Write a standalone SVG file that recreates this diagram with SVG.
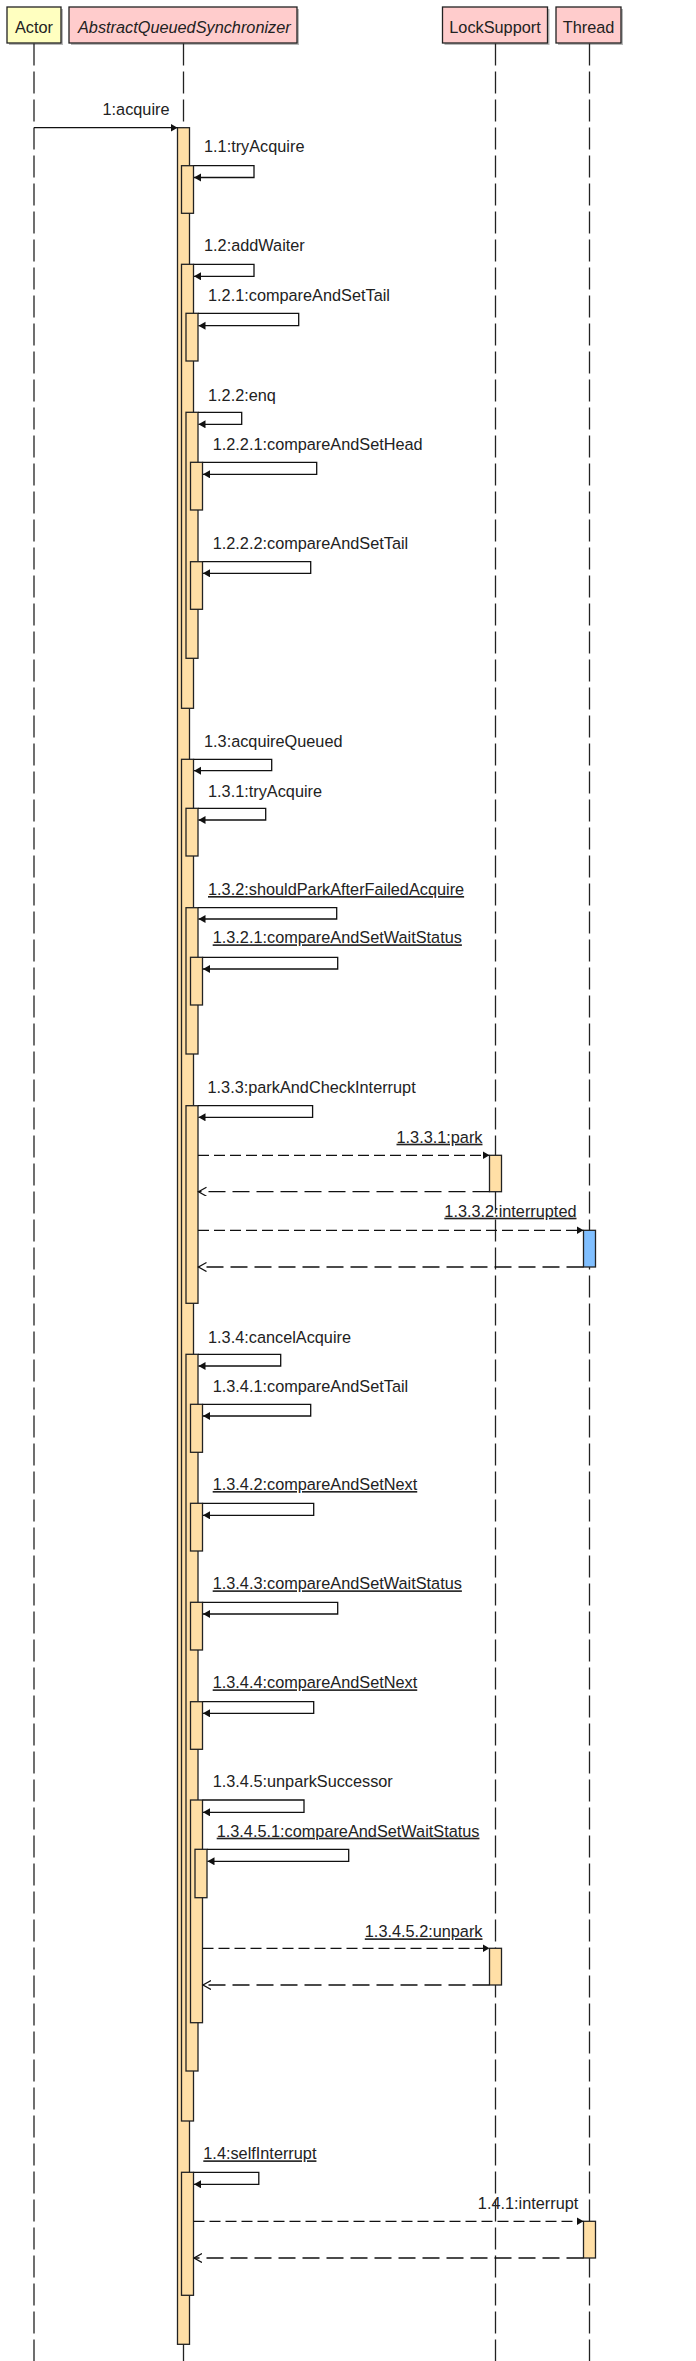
<svg xmlns="http://www.w3.org/2000/svg" width="696" height="2361" viewBox="0 0 696 2361">
<style>
text{font-family:"Liberation Sans",Arial,sans-serif;font-size:16.3px;fill:#222}
.shadow{fill:#b8b8b8}
.hdr{stroke:#222;stroke-width:1.3}
.life{stroke:#222;stroke-width:1.3;stroke-dasharray:22 6;fill:none}
.act{fill:#FFDFA6;stroke:#222;stroke-width:1.3}
.actb{fill:#80BFFF;stroke:#222;stroke-width:1.3}
.self{fill:none;stroke:#111;stroke-width:1.3;marker-end:url(#sync)}
.call{fill:none;stroke:#111;stroke-width:1.3;marker-end:url(#sync)}
.dcall{fill:none;stroke:#111;stroke-width:1.3;stroke-dasharray:11 5;marker-end:url(#sync)}
.ret{fill:none;stroke:#111;stroke-width:1.3;stroke-dasharray:17 7;marker-end:url(#open)}
.u{text-decoration:underline}
.e{text-anchor:end}
.m{text-anchor:middle}
</style>
<defs>
<marker id="sync" markerUnits="userSpaceOnUse" markerWidth="9" markerHeight="9" refX="7" refY="4" orient="auto">
<path d="M0,0 L7,4 L0,8 z" fill="#111" stroke="none"/>
</marker>
<marker id="open" markerUnits="userSpaceOnUse" markerWidth="10" markerHeight="11" refX="8" refY="4.5" orient="auto">
<path d="M0,0 L8,4.5 L0,9" fill="none" stroke="#111" stroke-width="1.3" stroke-dasharray="none"/>
</marker>
</defs>
<rect width="696" height="2361" fill="#fff"/>

<g id="actor">
<rect class="shadow" x="9" y="9" width="54" height="36"/>
<rect class="hdr" x="7" y="7" width="54" height="36" fill="#FFFFC0"/>
<text class="m" x="34" y="33">Actor</text>
<line class="life" x1="34" y1="43.5" x2="34" y2="2361"/>
</g>

<g id="aqs">
<rect class="shadow" x="71" y="9" width="228" height="36"/>
<rect class="hdr" x="69" y="7" width="228" height="36" fill="#FFCCCC"/>
<text x="78" y="33" font-style="italic">AbstractQueuedSynchronizer</text>
<line class="life" x1="183.5" y1="43.5" x2="183.5" y2="2361"/>
<rect class="act" x="177.5" y="127.7" width="12" height="2216.6"/>
<rect class="act" x="181.5" y="165.7" width="12" height="47.6"/>
<rect class="act" x="181.5" y="264.3" width="12" height="444"/>
<rect class="act" x="181.5" y="759.3" width="12" height="1361.7"/>
<rect class="act" x="181.5" y="2172.3" width="12" height="123"/>
<rect class="act" x="186" y="313.3" width="12" height="47.7"/>
<rect class="act" x="186" y="412.3" width="12" height="246"/>
<rect class="act" x="186" y="808.3" width="12" height="47.7"/>
<rect class="act" x="186" y="907.7" width="12" height="146.3"/>
<rect class="act" x="186" y="1105.7" width="12" height="197.6"/>
<rect class="act" x="186" y="1354.3" width="12" height="716.7"/>
<rect class="act" x="190.5" y="462.3" width="12" height="47.7"/>
<rect class="act" x="190.5" y="561.7" width="12" height="47.6"/>
<rect class="act" x="190.5" y="957.3" width="12" height="47.7"/>
<rect class="act" x="190.5" y="1404.3" width="12" height="48"/>
<rect class="act" x="190.5" y="1503.3" width="12" height="47.7"/>
<rect class="act" x="190.5" y="1602.3" width="12" height="47.7"/>
<rect class="act" x="190.5" y="1701.7" width="12" height="47.6"/>
<rect class="act" x="190.5" y="1800" width="12" height="222.7"/>
<rect class="act" x="195" y="1849.3" width="12" height="48.4"/>
</g>

<g id="locksupport">
<rect class="shadow" x="444.5" y="9" width="105" height="36"/>
<rect class="hdr" x="442.5" y="7" width="105" height="36" fill="#FFCCCC"/>
<text class="m" x="495" y="33">LockSupport</text>
<line class="life" x1="495.5" y1="43.5" x2="495.5" y2="2361"/>
<rect class="act" x="489.5" y="1155.3" width="12" height="36.4"/>
<rect class="act" x="489.5" y="1948.3" width="12" height="36.7"/>
</g>

<g id="thread">
<rect class="shadow" x="558" y="9" width="65" height="36"/>
<rect class="hdr" x="556" y="7" width="65" height="36" fill="#FFCCCC"/>
<text class="m" x="588.5" y="33">Thread</text>
<line class="life" x1="589.5" y1="43.5" x2="589.5" y2="2361"/>
<rect class="actb" x="583.5" y="1230.3" width="12" height="36.7"/>
<rect class="act" x="583.5" y="2221.3" width="12" height="36.7"/>
</g>

<g id="connectors">
<path class="call" d="M34,127.7 H177.5"/>
<text class="e" x="169.5" y="115">1:acquire</text>

<path class="self" d="M193.5,165.7 H254 V177.5 H194"/>
<text x="204" y="152">1.1:tryAcquire</text>

<path class="self" d="M193.5,264.3 H254 V276.3 H194"/>
<text x="204" y="251">1.2:addWaiter</text>

<path class="self" d="M198,313.3 H298.7 V325.7 H198.5"/>
<text x="208" y="301">1.2.1:compareAndSetTail</text>

<path class="self" d="M198,412.3 H241.7 V424.3 H198.5"/>
<text x="208" y="400.7">1.2.2:enq</text>

<path class="self" d="M202.5,462.3 H316.7 V474.3 H203"/>
<text x="212.7" y="450">1.2.2.1:compareAndSetHead</text>

<path class="self" d="M202.5,561.7 H310.7 V573.3 H203"/>
<text x="212.7" y="549">1.2.2.2:compareAndSetTail</text>

<path class="self" d="M193.5,759.3 H271.7 V770.7 H194"/>
<text x="204" y="746.7">1.3:acquireQueued</text>

<path class="self" d="M198,808.3 H265.7 V820 H198.5"/>
<text x="208" y="796.7">1.3.1:tryAcquire</text>

<path class="self" d="M198,907.7 H336.7 V919 H198.5"/>
<text class="u" x="208" y="895">1.3.2:shouldParkAfterFailedAcquire</text>

<path class="self" d="M202.5,957.3 H337.7 V969 H203"/>
<text class="u" x="212.7" y="943.3">1.3.2.1:compareAndSetWaitStatus</text>

<path class="self" d="M198,1105.7 H312.6 V1117.3 H198.5"/>
<text x="207.5" y="1093.3">1.3.3:parkAndCheckInterrupt</text>

<path class="dcall" d="M198,1155.3 H489.5"/>
<text class="e u" x="482.5" y="1142.7">1.3.3.1:park</text>
<path class="ret" d="M489.5,1191.7 H198.5"/>

<path class="dcall" d="M198,1230.3 H583.5"/>
<text class="e u" x="576.5" y="1216.7">1.3.3.2:interrupted</text>
<path class="ret" d="M583.5,1267 H198.5"/>

<path class="self" d="M198,1354.3 H280.7 V1366 H198.5"/>
<text x="208" y="1342.7">1.3.4:cancelAcquire</text>

<path class="self" d="M202.5,1404.3 H310.7 V1416 H203"/>
<text x="212.7" y="1391.7">1.3.4.1:compareAndSetTail</text>

<path class="self" d="M202.5,1503.3 H313.7 V1515.3 H203"/>
<text class="u" x="212.7" y="1490">1.3.4.2:compareAndSetNext</text>

<path class="self" d="M202.5,1602.3 H337.7 V1614 H203"/>
<text class="u" x="212.7" y="1589.3">1.3.4.3:compareAndSetWaitStatus</text>

<path class="self" d="M202.5,1701.7 H313.7 V1713.3 H203"/>
<text class="u" x="212.7" y="1688.3">1.3.4.4:compareAndSetNext</text>

<path class="self" d="M202.5,1800 H304 V1812.3 H203"/>
<text x="212.7" y="1787.3">1.3.4.5:unparkSuccessor</text>

<path class="self" d="M207,1849.3 H348.7 V1861.3 H207.5"/>
<text class="u" x="216.7" y="1836.7">1.3.4.5.1:compareAndSetWaitStatus</text>

<path class="dcall" d="M202.5,1948.3 H489.5"/>
<text class="e u" x="482.5" y="1937.3">1.3.4.5.2:unpark</text>
<path class="ret" d="M489.5,1985 H203"/>

<path class="self" d="M193.5,2172.3 H258.8 V2184.3 H194"/>
<text class="u" x="203.3" y="2159.3">1.4:selfInterrupt</text>

<path class="dcall" d="M193.5,2221.3 H583.5"/>
<text class="e" x="578.3" y="2209">1.4.1:interrupt</text>
<path class="ret" d="M583.5,2258 H194"/>
</g>
</svg>
